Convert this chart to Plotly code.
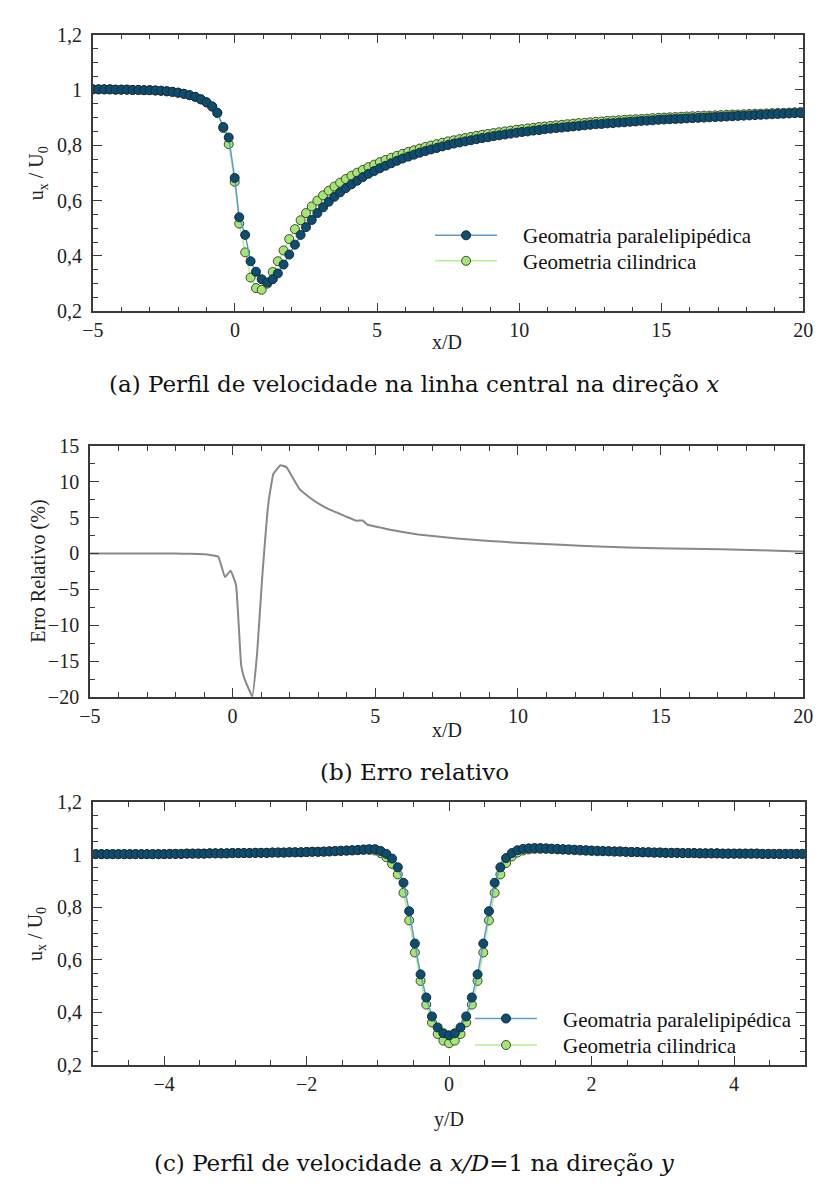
import plotly.graph_objects as go

W, H = 826, 1187

# ---------------- Panel (a): centreline velocity along x ----------------
xa = [-5.0, -4.8, -4.6, -4.4, -4.2, -4.0, -3.8, -3.6, -3.4, -3.2,
      -3.0, -2.8, -2.6, -2.4, -2.2, -2.0, -1.8, -1.6, -1.4, -1.2,
      -1.0, -0.8, -0.62, -0.41, -0.22, -0.01, 0.15, 0.36, 0.55, 0.74,
      0.94, 1.14, 1.33, 1.51, 1.71, 1.91, 2.11, 2.31, 2.5, 2.7,
      2.9, 3.1, 3.3, 3.5, 3.7, 3.9, 4.1, 4.3, 4.5, 4.7,
      4.9, 5.1, 5.3, 5.5, 5.7, 5.9, 6.1, 6.3, 6.5, 6.7,
      6.9, 7.1, 7.3, 7.5, 7.7, 7.9, 8.1, 8.3, 8.5, 8.7,
      8.9, 9.1, 9.3, 9.5, 9.7, 9.9, 10.1, 10.3, 10.5, 10.7,
      10.9, 11.1, 11.3, 11.5, 11.7, 11.9, 12.1, 12.3, 12.5, 12.7,
      12.9, 13.1, 13.3, 13.5, 13.7, 13.9, 14.1, 14.3, 14.5, 14.7,
      14.9, 15.1, 15.3, 15.5, 15.7, 15.9, 16.1, 16.3, 16.5, 16.7,
      16.9, 17.1, 17.3, 17.5, 17.7, 17.9, 18.1, 18.3, 18.5, 18.7,
      18.9, 19.1, 19.3, 19.5, 19.7, 19.9]

ua_par = [1.002, 1.002, 1.002, 1.002, 1.001, 1.001, 1.001, 1.000, 1.000, 0.999,
          0.999, 0.998, 0.997, 0.995, 0.993, 0.990, 0.986, 0.981, 0.975, 0.966,
          0.955, 0.940, 0.918, 0.866, 0.828, 0.682, 0.540, 0.476, 0.381, 0.343,
          0.316, 0.304, 0.316, 0.337, 0.369, 0.405, 0.441, 0.476, 0.504, 0.530,
          0.555, 0.576, 0.596, 0.614, 0.630, 0.645, 0.659, 0.672, 0.685, 0.697,
          0.707, 0.717, 0.726, 0.735, 0.744, 0.752, 0.759, 0.766, 0.773, 0.779,
          0.785, 0.790, 0.796, 0.801, 0.806, 0.810, 0.814, 0.818, 0.822, 0.826,
          0.829, 0.833, 0.836, 0.839, 0.842, 0.845, 0.848, 0.850, 0.853, 0.855,
          0.858, 0.860, 0.862, 0.864, 0.866, 0.868, 0.870, 0.872, 0.874, 0.876,
          0.877, 0.879, 0.880, 0.882, 0.883, 0.885, 0.886, 0.888, 0.889, 0.890,
          0.892, 0.893, 0.894, 0.895, 0.896, 0.897, 0.898, 0.899, 0.900, 0.901,
          0.902, 0.903, 0.904, 0.905, 0.906, 0.907, 0.908, 0.909, 0.910, 0.911,
          0.912, 0.913, 0.914, 0.915, 0.916, 0.917]

ua_cil = [1.002, 1.002, 1.002, 1.002, 1.001, 1.001, 1.001, 1.000, 1.000, 0.999,
          0.999, 0.998, 0.997, 0.995, 0.993, 0.990, 0.986, 0.981, 0.975, 0.966,
          0.955, 0.940, 0.916, 0.862, 0.804, 0.668, 0.517, 0.413, 0.322, 0.284,
          0.278, 0.300, 0.342, 0.381, 0.420, 0.461, 0.497, 0.529, 0.555, 0.579,
          0.600, 0.619, 0.636, 0.651, 0.665, 0.678, 0.690, 0.701, 0.711, 0.721,
          0.730, 0.739, 0.747, 0.755, 0.762, 0.769, 0.776, 0.782, 0.788, 0.794,
          0.799, 0.804, 0.809, 0.814, 0.818, 0.822, 0.826, 0.830, 0.834, 0.838,
          0.841, 0.844, 0.847, 0.850, 0.853, 0.856, 0.858, 0.861, 0.863, 0.866,
          0.868, 0.870, 0.872, 0.874, 0.876, 0.878, 0.880, 0.881, 0.883, 0.885,
          0.886, 0.888, 0.889, 0.890, 0.892, 0.893, 0.894, 0.895, 0.896, 0.898,
          0.899, 0.900, 0.901, 0.902, 0.903, 0.904, 0.905, 0.906, 0.907, 0.907,
          0.908, 0.909, 0.910, 0.911, 0.911, 0.912, 0.913, 0.914, 0.914, 0.915,
          0.916, 0.917, 0.917, 0.918, 0.919, 0.920]

# ---------------- Panel (b): relative error ----------------
xb = [-5.0, -4.0, -3.0, -2.0, -1.5, -1.0, -0.8, -0.5, -0.27, -0.07,
      0.12, 0.3, 0.41, 0.69, 0.86, 1.03, 1.26, 1.43, 1.68, 1.89,
      2.1, 2.34, 2.7, 3.03, 3.4, 3.71, 4.0, 4.34, 4.56, 4.73,
      5.2, 5.53, 6.5, 7.86, 9.0, 9.96, 11.5, 12.84, 14.87, 17.1,
      19.9, 20.0]
err = [0.0, 0.0, 0.0, -0.02, -0.05, -0.12, -0.2, -0.45, -3.28, -2.4,
       -4.4, -15.6, -17.4, -19.9, -13.8, -3.7, 7.2, 11.1, 12.3, 12.0,
       10.6, 9.0, 7.8, 6.9, 6.1, 5.6, 5.1, 4.56, 4.6, 4.0,
       3.6, 3.3, 2.65, 2.1, 1.75, 1.5, 1.2, 0.96, 0.74, 0.6,
       0.28, 0.27]

# ---------------- Panel (c): velocity profile along y at x/D=1 ----------------
yc = [-4.96, -4.88, -4.80, -4.72, -4.64, -4.56, -4.48, -4.40, -4.32, -4.24,
      -4.16, -4.08, -4.00, -3.92, -3.84, -3.76, -3.68, -3.60, -3.52, -3.44,
      -3.36, -3.28, -3.20, -3.12, -3.04, -2.96, -2.88, -2.80, -2.72, -2.64,
      -2.56, -2.48, -2.40, -2.32, -2.24, -2.16, -2.08, -2.00, -1.92, -1.84,
      -1.76, -1.68, -1.60, -1.52, -1.44, -1.36, -1.28, -1.20, -1.12, -1.04,
      -0.96, -0.88, -0.80, -0.72, -0.64, -0.56, -0.48, -0.40, -0.32, -0.24,
      -0.16, -0.08, 0.00, 0.08, 0.16, 0.24, 0.32, 0.40, 0.48, 0.56,
      0.64, 0.72, 0.80, 0.88, 0.96, 1.04, 1.12, 1.20, 1.28, 1.36,
      1.44, 1.52, 1.60, 1.68, 1.76, 1.84, 1.92, 2.00, 2.08, 2.16,
      2.24, 2.32, 2.40, 2.48, 2.56, 2.64, 2.72, 2.80, 2.88, 2.96,
      3.04, 3.12, 3.20, 3.28, 3.36, 3.44, 3.52, 3.60, 3.68, 3.76,
      3.84, 3.92, 4.00, 4.08, 4.16, 4.24, 4.32, 4.40, 4.48, 4.56,
      4.64, 4.72, 4.80, 4.88, 4.96]

uc_par = [1.002, 1.002, 1.002, 1.002, 1.002, 1.002, 1.002, 1.002, 1.002, 1.002,
          1.002, 1.002, 1.002, 1.003, 1.003, 1.003, 1.004, 1.004, 1.004, 1.004,
          1.005, 1.005, 1.005, 1.005, 1.006, 1.006, 1.006, 1.006, 1.007, 1.007,
          1.007, 1.008, 1.008, 1.008, 1.009, 1.009, 1.009, 1.010, 1.011, 1.011,
          1.012, 1.013, 1.014, 1.015, 1.016, 1.017, 1.018, 1.020, 1.021, 1.021,
          1.014, 1.003, 0.985, 0.952, 0.893, 0.785, 0.662, 0.545, 0.457, 0.385,
          0.343, 0.321, 0.313, 0.321, 0.343, 0.385, 0.457, 0.545, 0.662, 0.785,
          0.893, 0.952, 0.987, 1.006, 1.017, 1.022, 1.024, 1.025, 1.025, 1.024,
          1.023, 1.022, 1.021, 1.020, 1.019, 1.018, 1.017, 1.016, 1.015, 1.014,
          1.013, 1.012, 1.012, 1.011, 1.010, 1.010, 1.009, 1.009, 1.008, 1.008,
          1.007, 1.007, 1.007, 1.006, 1.006, 1.006, 1.005, 1.005, 1.005, 1.005,
          1.004, 1.004, 1.004, 1.004, 1.004, 1.004, 1.004, 1.003, 1.003, 1.003,
          1.003, 1.003, 1.003, 1.003, 1.003]

uc_cil = [1.002, 1.002, 1.002, 1.002, 1.002, 1.002, 1.002, 1.002, 1.002, 1.002,
          1.002, 1.002, 1.002, 1.003, 1.003, 1.003, 1.004, 1.004, 1.004, 1.004,
          1.005, 1.005, 1.005, 1.005, 1.006, 1.006, 1.006, 1.006, 1.007, 1.007,
          1.007, 1.008, 1.008, 1.008, 1.009, 1.009, 1.009, 1.010, 1.011, 1.011,
          1.011, 1.012, 1.013, 1.014, 1.015, 1.016, 1.017, 1.018, 1.018, 1.016,
          1.006, 0.990, 0.965, 0.925, 0.855, 0.750, 0.628, 0.520, 0.430, 0.362,
          0.318, 0.293, 0.283, 0.293, 0.318, 0.362, 0.430, 0.520, 0.628, 0.750,
          0.855, 0.925, 0.968, 0.993, 1.008, 1.016, 1.020, 1.022, 1.022, 1.022,
          1.021, 1.020, 1.019, 1.018, 1.017, 1.016, 1.015, 1.014, 1.013, 1.013,
          1.013, 1.012, 1.012, 1.011, 1.010, 1.010, 1.009, 1.009, 1.008, 1.008,
          1.007, 1.007, 1.007, 1.006, 1.006, 1.006, 1.005, 1.005, 1.005, 1.005,
          1.004, 1.004, 1.004, 1.004, 1.004, 1.004, 1.004, 1.003, 1.003, 1.003,
          1.003, 1.003, 1.003, 1.003, 1.003]

name_par = "Geomatria paralelipipédica"
name_cil = "Geometria cilindrica"

# ---------------- styles ----------------
SERIF = "Liberation Serif"
CAP = "DejaVu Serif"
BLUE_FILL = "#0c4d72"
BLUE_LINE = "#5a9bd0"
GREEN_FILL = "#a4e672"
GREEN_LINE = "#b8f08f"
FRAME = "#3a3a3a"
PAD = "\u00a0\u00a0\u00a0\u00a0"


def px_x(p):
    return p / W


def px_y(p):
    return 1 - p / H


blue_marker = dict(size=9, color=BLUE_FILL, line=dict(color="#1b2a33", width=1))
green_marker = dict(size=9, color=GREEN_FILL, line=dict(color="#3d4a35", width=1))

fig = go.Figure()

# Panel (a) traces (green first so blue is drawn on top)
fig.add_trace(go.Scatter(x=xa, y=ua_cil, mode="lines+markers", name=PAD + name_cil,
                         line=dict(color=GREEN_LINE, width=1.5), marker=green_marker,
                         xaxis="x", yaxis="y", legend="legend3"))
fig.add_trace(go.Scatter(x=xa, y=ua_par, mode="lines+markers", name=PAD + name_par,
                         line=dict(color=BLUE_LINE, width=1.5), marker=blue_marker,
                         xaxis="x", yaxis="y", legend="legend"))

# Panel (b)
fig.add_trace(go.Scatter(x=xb, y=err, mode="lines", showlegend=False,
                         line=dict(color="#888888", width=2, shape="spline", smoothing=0.3),
                         xaxis="x2", yaxis="y2"))

# Panel (c)
fig.add_trace(go.Scatter(x=yc, y=uc_cil, mode="lines+markers", name=PAD + name_cil,
                         line=dict(color=GREEN_LINE, width=1.5), marker=green_marker,
                         xaxis="x3", yaxis="y3", legend="legend4"))
fig.add_trace(go.Scatter(x=yc, y=uc_par, mode="lines+markers", name=PAD + name_par,
                         line=dict(color=BLUE_LINE, width=1.5), marker=blue_marker,
                         xaxis="x3", yaxis="y3", legend="legend2"))

axis_common = dict(showline=True, linecolor=FRAME, linewidth=1.6, mirror="allticks",
                   ticks="inside", ticklen=9, tickwidth=1.3, tickcolor=FRAME,
                   showgrid=False, zeroline=False,
                   tickfont=dict(family=SERIF, size=20, color="#222222"))


def ax(dom, rng, t0, dtick, minor, anchor, suffix=""):
    d = dict(axis_common)
    d.update(domain=dom, range=rng, tickmode="linear", tick0=t0, dtick=dtick,
             anchor=anchor, ticksuffix=suffix,
             minor=dict(ticks="inside", ticklen=5, tickwidth=1.2, tickcolor=FRAME,
                        dtick=minor, tick0=t0, showgrid=False))
    return d


def legend_at(xp, yp):
    return dict(x=px_x(xp), y=px_y(yp), xanchor="left", yanchor="top",
                bgcolor="rgba(0,0,0,0)", itemwidth=62,
                font=dict(family=SERIF, size=21, color="#111111"))


YSUF = "\u00a0"

fig.update_layout(
    width=W, height=H, autosize=False,
    margin=dict(l=0, r=0, t=0, b=0),
    paper_bgcolor="white", plot_bgcolor="white",
    separators=", ",
    xaxis=ax([px_x(84), px_x(813)], [-5, 20], -5, 5, 1, "y"),
    yaxis=ax([px_y(306), px_y(24)], [0.2, 1.2], 0.2, 0.2, 0.05, "x", YSUF),
    xaxis2=ax([px_x(81), px_x(813)], [-5, 20], -5, 5, 1, "y2"),
    yaxis2=ax([px_y(699), px_y(443)], [-20, 15], -20, 5, 2.5, "x2", YSUF),
    xaxis3=ax([px_x(84), px_x(815)], [-5, 5], 0, 2, 0.5, "y3"),
    yaxis3=ax([px_y(1074), px_y(806)], [0.2, 1.2], 0.2, 0.2, 0.05, "x3", YSUF),
    legend=legend_at(430, 208),
    legend3=legend_at(430, 234),
    legend2=legend_at(471, 1006),
    legend4=legend_at(471, 1033),
)

ann = []
lab_font = dict(family=SERIF, size=20, color="#222222")
cap_font = dict(family=CAP, size=23, color="#111111")

# axis titles
ann.append(dict(text="x/D", x=px_x(447), y=px_y(337), font=lab_font))
ann.append(dict(text="u<sub>x</sub> / U<sub>0</sub>", x=px_x(28), y=px_y(165), textangle=-90, font=lab_font))
ann.append(dict(text="x/D", x=px_x(447), y=px_y(733), font=lab_font))
ann.append(dict(text="Erro Relativo (%)", x=px_x(28), y=px_y(571), textangle=-90, font=lab_font))
ann.append(dict(text="y/D", x=px_x(449), y=px_y(1129), font=lab_font))
ann.append(dict(text="u<sub>x</sub> / U<sub>0</sub>", x=px_x(26), y=px_y(940), textangle=-90, font=lab_font))

# captions
ann.append(dict(text="(a) Perfil de velocidade na linha central na direção <i>x</i>",
                x=px_x(414), y=px_y(380), font=cap_font))
ann.append(dict(text="(b) Erro relativo", x=px_x(414), y=px_y(775), font=cap_font))
ann.append(dict(text="(c) Perfil de velocidade a <i>x/D</i>=1 na direção <i>y</i>",
                x=px_x(414), y=px_y(1174), font=cap_font))

for a in ann:
    a.update(xref="paper", yref="paper", showarrow=False, xanchor="center", yanchor="middle")

fig.update_layout(annotations=ann)

fig.write_html("out.html")
